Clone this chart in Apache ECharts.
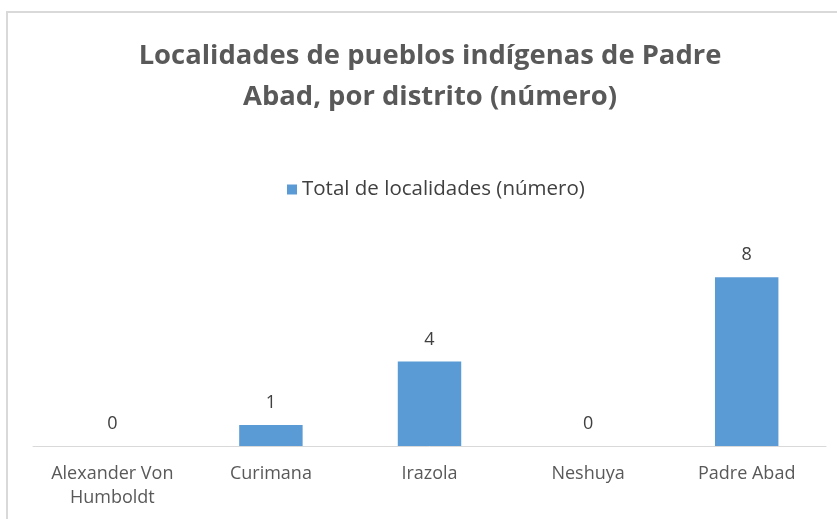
<!DOCTYPE html>
<html>
<head>
<meta charset="utf-8">
<script src="https://cdn.jsdelivr.net/npm/echarts@6/dist/echarts.min.js"></script>
<style>
  html, body { margin: 0; padding: 0; background: #ffffff; }
  #chart { width: 837px; height: 519px; }
</style>
</head>
<body>
<div id="chart"></div>
<script>
// Districts of Padre Abad province and their count of indigenous localities
const districts = ['Alexander Von\nHumboldt', 'Curimana', 'Irazola', 'Neshuya', 'Padre Abad'];
const localities = [0, 1, 4, 0, 8];
const seriesName = 'Total de localidades (número)';
const titleText = 'Localidades de pueblos indígenas de Padre\nAbad, por distrito (número)';

const FONT = '"Open Sans", sans-serif';

const chart = echarts.init(document.getElementById('chart'), null, { renderer: 'canvas' });
chart.setOption({
  animation: false,
  backgroundColor: '#ffffff',
  graphic: [{
    type: 'rect',
    shape: { x: 7, y: 12, width: 900, height: 600 },
    style: { fill: 'none', stroke: '#d9d9d9', lineWidth: 2 },
    silent: true
  }],
  title: {
    text: titleText,
    left: 425,
    top: 31,
    textAlign: 'center',
    textStyle: {
      fontFamily: FONT,
      fontSize: 27.4,
      fontWeight: 'bold',
      color: '#595959',
      lineHeight: 41
    }
  },
  legend: {
    data: [seriesName],
    left: 282,
    top: 174,
    itemWidth: 10,
    itemHeight: 10,
    itemGap: 4,
    icon: 'rect',
    textStyle: { fontFamily: FONT, fontSize: 20.5, color: '#404040' }
  },
  grid: { left: 33, right: 11, top: 235, bottom: 73, containLabel: false },
  xAxis: {
    type: 'category',
    data: districts,
    axisLine: { lineStyle: { color: '#d9d9d9', width: 1 } },
    axisTick: { show: false },
    axisLabel: {
      fontFamily: FONT,
      fontSize: 18,
      color: '#595959',
      margin: 16,
      lineHeight: 24,
      interval: 0
    }
  },
  yAxis: {
    type: 'value',
    min: 0,
    max: 10,
    show: false,
    splitLine: { show: false }
  },
  series: [{
    name: seriesName,
    type: 'bar',
    data: localities,
    barWidth: '40%',
    itemStyle: { color: '#5b9bd5' },
    label: {
      show: true,
      position: 'top',
      distance: 13,
      fontFamily: FONT,
      fontSize: 18,
      color: '#404040'
    }
  }]
});
</script>
</body>
</html>
